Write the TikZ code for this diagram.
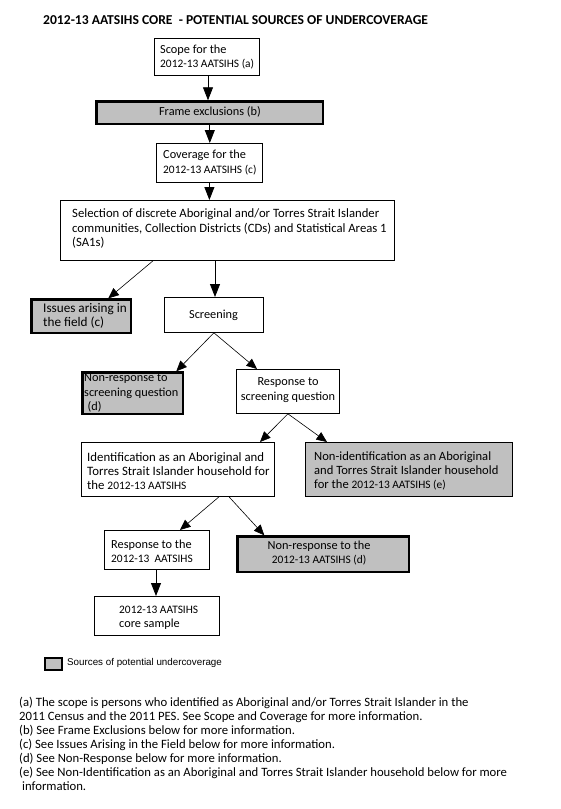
\documentclass[tikz,border=0pt]{standalone}
\usepackage{fontspec}
\setmainfont{Carlito}
\newfontfamily\legendfont{Liberation Sans}
\usetikzlibrary{arrows.meta,calc}
\definecolor{boxgray}{RGB}{192,192,192}
\newcommand{\bodyfnt}{\fontsize{12.3}{14.3}\selectfont}
\newcommand{\aat}[1]{{\fontsize{11.4}{14.3}\selectfont #1}}
\tikzset{
  plainbox/.style={draw, line width=0.8pt, fill=white, inner sep=0pt, anchor=north west},
  srcbox/.style={draw, line width=2.6pt, fill=boxgray, inner sep=0pt, anchor=north west},
  srcthin/.style={draw, line width=0.8pt, fill=boxgray, inner sep=0pt, anchor=north west},
  txt/.style={inner sep=0pt, align=left, anchor=west, font=\bodyfnt},
  ctxt/.style={inner sep=0pt, align=center, font=\bodyfnt},
  flow/.style={-{Triangle[length=13pt,width=10pt]}, line width=0.8pt},
  diag/.style={-{Triangle[length=10.5pt,width=9pt]}, line width=0.6pt},
}
\begin{document}
\begin{tikzpicture}[x=1pt,y=-1pt]
\useasboundingbox (0,0) rectangle (560,809);
\fill[white] (0,0) rectangle (560,809);

% title
\node[inner sep=0pt, anchor=west, font=\bfseries\fontsize{13.6}{16}\selectfont] (title) at (43,20) {2012-13 AATSIHS CORE\ \ - POTENTIAL SOURCES OF UNDERCOVERAGE};

% boxes
\node[plainbox, minimum width=105, minimum height=37] (scope) at (154,38) {};
\node[srcbox, minimum width=226.4, minimum height=22.4] (frame) at (95.3,100.3) {};
\node[plainbox, minimum width=106, minimum height=39] (cov) at (156,143) {};
\node[plainbox, minimum width=334, minimum height=60] (sel) at (60,200) {};
\node[srcbox, minimum width=99.4, minimum height=33.4] (iss) at (30.3,298.3) {};
\node[plainbox, minimum width=99, minimum height=35] (scr) at (164,297) {};
\node[srcbox, minimum width=100.4, minimum height=41.4] (nrs) at (81.3,371.3) {};
\node[plainbox, minimum width=103, minimum height=44] (resp) at (236,369) {};
\node[plainbox, minimum width=193, minimum height=54] (ident) at (81,442) {};
\node[srcthin, minimum width=207, minimum height=54] (nid) at (305,442) {};
\node[plainbox, minimum width=105, minimum height=39] (resptwo) at (104,530) {};
\node[srcbox, minimum width=171.4, minimum height=35.4] (nrtwo) at (236.3,535.3) {};
\node[plainbox, minimum width=125, minimum height=39] (core) at (94,596) {};
\node[draw, line width=2pt, fill=boxgray, inner sep=0pt, anchor=north west, minimum width=17, minimum height=12] (legsq) at (44,657) {};

% texts
\node[txt] (scopet) at (160,57) {Scope for the\\\aat{2012-13 AATSIHS (a)}};
\node[ctxt] (framet) at (210,112) {Frame exclusions (b)};
\node[txt] (covt) at (163,162.5) {Coverage for the\\\aat{2012-13 AATSIHS (c)}};
\node[txt, font=\fontsize{12.7}{14.2}\selectfont] (selt) at (72,228.5) {Selection of discrete Aboriginal and/or Torres Strait Islander\\communities, Collection Districts (CDs) and Statistical Areas 1\\(SA1s)};
\node[txt, font=\fontsize{13.2}{14.3}\selectfont] (isst) at (43,316) {Issues arising in\\the field (c)};
\node[ctxt] (scrt) at (213.5,315.5) {Screening};
\node[txt] (nrst) at (84,393) {Non-response to\\screening question\\\hspace*{3.5pt}(d)};
\node[ctxt] (respt) at (288,390) {Response to\\screening question};
\node[txt, font=\fontsize{12.8}{14.2}\selectfont] (identt) at (87,471) {Identification as an Aboriginal and\\Torres Strait Islander household for\\the \aat{2012-13 AATSIHS}};
\node[txt, font=\fontsize{12.6}{14.2}\selectfont] (nidt) at (314,471) {Non-identification as an Aboriginal\\and Torres Strait Islander household\\for the \aat{2012-13 AATSIHS (e)}};
\node[txt] (resptwot) at (111,551.5) {Response to the\\\aat{2012-13\ \ AATSIHS}};
\node[ctxt] (nrtwot) at (319,553) {Non-response to the\\\aat{2012-13 AATSIHS (d)}};
\node[txt] (coret) at (119,618) {\aat{2012-13 AATSIHS}\\core sample};
\node[inner sep=0pt, anchor=west, font=\legendfont\fontsize{9.8}{11}\selectfont] (legt) at (67,663) {Sources of potential undercoverage};

\node[inner sep=0pt, anchor=north west, align=left, font=\fontsize{12.7}{14}\selectfont] (notes) at (19,697.5) {(a) The scope is persons who identified as Aboriginal and/or Torres Strait Islander in the\\2011 Census and the 2011 PES. See Scope and Coverage for more information.\\(b) See Frame Exclusions below for more information.\\(c) See Issues Arising in the Field below for more information.\\(d) See Non-Response below for more information.\\(e) See Non-Identification as an Aboriginal and Torres Strait Islander household below for more\\\hspace*{3pt}information.};

% connectors
\coordinate (scopeout) at ([xshift=54]scope.south west);
\draw[flow] (scopeout) -- (scopeout |- frame.north);
\draw[flow] (frame.south) -- (frame.south |- cov.north);
\draw[flow] (cov.south) -- (cov.south |- sel.north);
\coordinate (selout) at ([xshift=155]sel.south west);
\draw[flow] (selout) -- (selout |- scr.north);
\draw[diag] ([xshift=93]sel.south west) -- ([xshift=78]iss.north west);
\draw[diag] (scr.south) -- ([xshift=95]nrs.north west);
\draw[diag] (scr.south) -- ([xshift=21]resp.north west);
\draw[diag] (resp.south) -- ([xshift=179]ident.north west);
\draw[diag] (resp.south) -- ([xshift=22]nid.north west);
\draw[diag] ([xshift=138]ident.south west) -- ([xshift=76]resptwo.north west);
\draw[diag] ([xshift=148]ident.south west) -- ([xshift=28]nrtwo.north west);
\coordinate (respout) at ([xshift=52]resptwo.south west);
\draw[flow] (respout) -- (respout |- core.north);
\end{tikzpicture}
\end{document}
